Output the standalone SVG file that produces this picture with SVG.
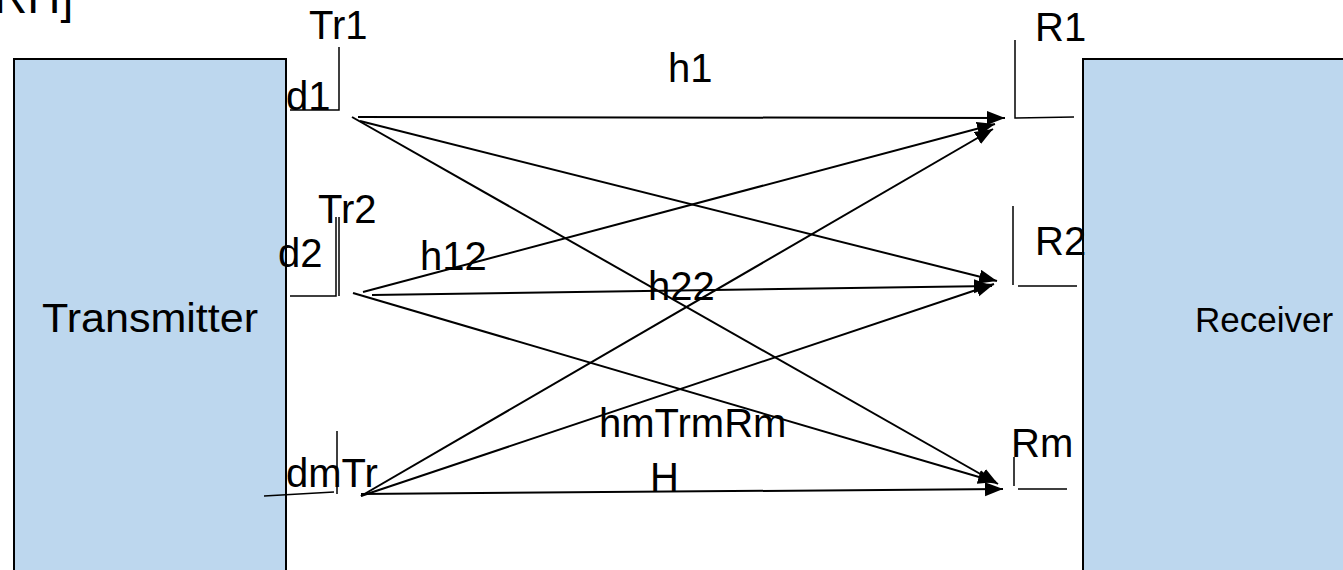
<svg xmlns="http://www.w3.org/2000/svg" width="1343" height="570" viewBox="0 0 1343 570">
<style>
text{font-family:"Liberation Sans",Arial,sans-serif;font-size:40px;fill:#000}
.box{fill:#BDD7EE;stroke:#000;stroke-width:2}
.br{fill:none;stroke:#000;stroke-width:1.5}
.c{fill:none;stroke:#000;stroke-width:2;marker-end:url(#ah)}
</style>
<defs>
<marker id="ah" markerUnits="userSpaceOnUse" markerWidth="20" markerHeight="16" refX="18" refY="7" orient="auto">
<path d="M0,0 L18,7 L0,14 z" fill="#000"/>
</marker>
</defs>
<text x="-6" y="13" style="font-size:46px">RH]</text>
<g id="transmitter">
<rect class="box" x="14" y="59" width="272" height="540"/>
<text x="150" y="332" text-anchor="middle" textLength="216" lengthAdjust="spacingAndGlyphs">Transmitter</text>
</g>
<g id="receiver">
<rect class="box" x="1083" y="59" width="290" height="540"/>
<text x="1264" y="332" text-anchor="middle" style="font-size:35px">Receiver</text>
</g>
<g id="tr1">
<text x="309" y="39">Tr1</text>
<text x="286" y="110">d1</text>
<path class="br" d="M339,47 V110 H290"/>
</g>
<g id="tr2">
<text x="318" y="223">Tr2</text>
<text x="278" y="267">d2</text>
<path class="br" d="M336,217 V296 H290 M339,217 V296"/>
</g>
<g id="trm">
<text x="286" y="487">dmTr</text>
<path class="br" d="M337,431 V494 M264,496 L334,492"/>
</g>
<g id="r1">
<text x="1035" y="41">R1</text>
<path class="br" d="M1015,40 V118 L1074,117"/>
</g>
<g id="r2">
<text x="1035" y="255">R2</text>
<path class="br" d="M1013,206 V285 M1018,286 H1077"/>
</g>
<g id="rm">
<text x="1011" y="457">Rm</text>
<path class="br" d="M1014,457 V486 M1018,489 H1067"/>
</g>
<g id="connectors">
<line class="c" x1="358" y1="117" x2="1005" y2="118"/>
<line class="c" x1="360" y1="121" x2="997" y2="281"/>
<line class="c" x1="352" y1="117" x2="998" y2="484"/>
<line class="c" x1="363" y1="292" x2="995" y2="124"/>
<line class="c" x1="372" y1="295" x2="992" y2="286"/>
<line class="c" x1="353" y1="293" x2="996" y2="482"/>
<line class="c" x1="361" y1="496" x2="993" y2="129"/>
<line class="c" x1="361" y1="496" x2="994" y2="284"/>
<line class="c" x1="361" y1="494" x2="1003" y2="489"/>
</g>
<g id="labels">
<text x="668" y="82">h1</text>
<text x="420" y="270">h12</text>
<text x="648" y="300">h22</text>
<text x="599" y="437">hmTrmRm</text>
<text x="650" y="491">H</text>
</g>
</svg>
